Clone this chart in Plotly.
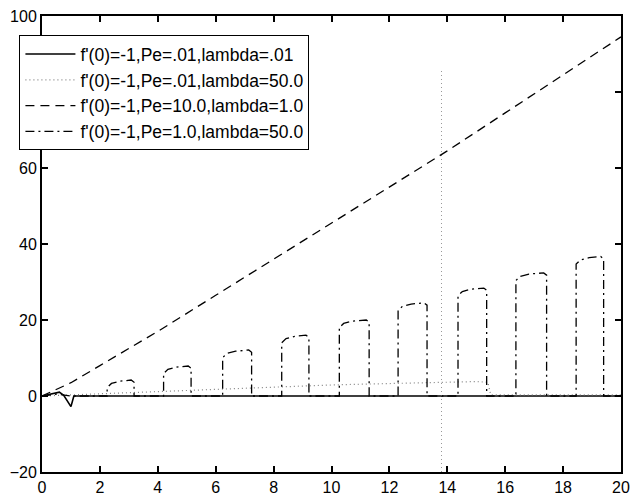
import plotly.graph_objects as go

# ---- data ----
names = ["f'(0)=-1,Pe=.01,lambda=.01",
         "f'(0)=-1,Pe=.01,lambda=50.0",
         "f'(0)=-1,Pe=10.0,lambda=1.0",
         "f'(0)=-1,Pe=1.0,lambda=50.0"]

solid_x = [0, 0.4, 0.6, 0.75, 0.9, 1.0, 1.1, 20]
solid_y = [0, 0.6, 1.0, 0.2, -1.5, -2.8, 0, 0]

dotted_x = [0, 1, 2, 3, 4, 5, 6, 7, 8, 9, 10, 11, 12, 13, 14, 15, 15.4, 15.5, 16, 18, 20]
dotted_y = [0, 0.3, 0.6, 0.9, 1.2, 1.5, 1.8, 2.1, 2.4, 2.6, 2.9, 3.1, 3.3, 3.5, 3.7, 3.8, 3.6, 0.3, 0.3, 0.3, 0.3]
dotted_spike_x = [13.8, 13.8]
dotted_spike_y = [-20, 86]

dashed_x = [0, 1, 2, 4, 6, 8, 10, 12, 14, 16, 18, 20]
dashed_y = [0, 3.5, 8.0, 17.0, 26.5, 36.0, 45.5, 55.0, 64.5, 74.5, 84.5, 94.5]

dashdot_x = [0, 0.5, 1.0, 2.25,
             2.25, 2.25, 2.4, 2.7, 3.08, 3.18, 3.18,
             4.2, 4.2, 4.35, 4.65, 5.05, 5.15, 5.15,
             6.24, 6.24, 6.39, 6.69, 7.14, 7.24, 7.24,
             8.28, 8.28, 8.43, 8.73, 9.12, 9.22, 9.22,
             10.27, 10.27, 10.42, 10.72, 11.2, 11.3, 11.3,
             12.3, 12.3, 12.45, 12.75, 13.2, 13.3, 13.3,
             14.37, 14.37, 14.52, 14.82, 15.26, 15.36, 15.36,
             16.37, 16.37, 16.52, 16.82, 17.33, 17.43, 17.43,
             18.45, 18.45, 18.6, 18.9, 19.3, 19.4, 19.4,
             20]
dashdot_y = [0, 0.5, 0, 0,
             0, 2.2, 3.3, 3.9, 4.2, 3.6, 0,
             0, 5.9, 7.0, 7.6, 7.9, 7.3, 0,
             0, 10.1, 11.2, 11.8, 12.1, 11.5, 0,
             0, 14.0, 15.1, 15.7, 16.0, 15.4, 0,
             0, 18.0, 19.1, 19.7, 20.0, 19.4, 0,
             0, 22.5, 23.6, 24.2, 24.5, 23.9, 0,
             0, 26.4, 27.5, 28.1, 28.4, 27.8, 0,
             0, 30.4, 31.5, 32.1, 32.4, 31.8, 0,
             0, 34.7, 35.8, 36.4, 36.7, 36.1, 0,
             0]

x_ticks = [0, 2, 4, 6, 8, 10, 12, 14, 16, 18, 20]
y_ticks = [-20, 0, 20, 40, 60, 80, 100]

FONT = "Liberation Sans, Arial, sans-serif"

fig = go.Figure()
fig.add_trace(go.Scatter(x=solid_x, y=solid_y, mode="lines", name=names[0],
                         line=dict(color="black", width=1.6, dash="solid")))
fig.add_trace(go.Scatter(x=dotted_x, y=dotted_y, mode="lines", name=names[1],
                         line=dict(color="#808080", width=1.2, dash="1px,3px")))
fig.add_trace(go.Scatter(x=dotted_spike_x, y=dotted_spike_y, mode="lines", showlegend=False,
                         line=dict(color="#999999", width=1, dash="1px,3px")))
fig.add_trace(go.Scatter(x=dashed_x, y=dashed_y, mode="lines", name=names[2],
                         line=dict(color="black", width=1.3, dash="9px,6px")))
fig.add_trace(go.Scatter(x=dashdot_x, y=dashdot_y, mode="lines", name=names[3],
                         line=dict(color="black", width=1.3, dash="9px,4px,2px,4px")))

axis_common = dict(showgrid=False, zeroline=False, showline=True, linecolor="black",
                   linewidth=2, mirror="ticks", ticks="inside", ticklen=6,
                   tickcolor="black", tickwidth=1.5, automargin=False,
                   tickfont=dict(family=FONT, size=16, color="black"))

fig.update_layout(
    width=630, height=502,
    margin=dict(l=42, r=9, t=16, b=30),
    paper_bgcolor="white", plot_bgcolor="white",
    xaxis=dict(range=[0, 20], tickvals=x_ticks, **axis_common),
    yaxis=dict(range=[-20, 100], tickvals=y_ticks, **axis_common),
    legend=dict(x=-0.039, y=0.958, xanchor="left", yanchor="top",
                bgcolor="white", bordercolor="black", borderwidth=1,
                font=dict(family=FONT, size=17.5, color="black"),
                tracegroupgap=0, itemwidth=50),
    showlegend=True,
)

fig.write_html("out.html")
